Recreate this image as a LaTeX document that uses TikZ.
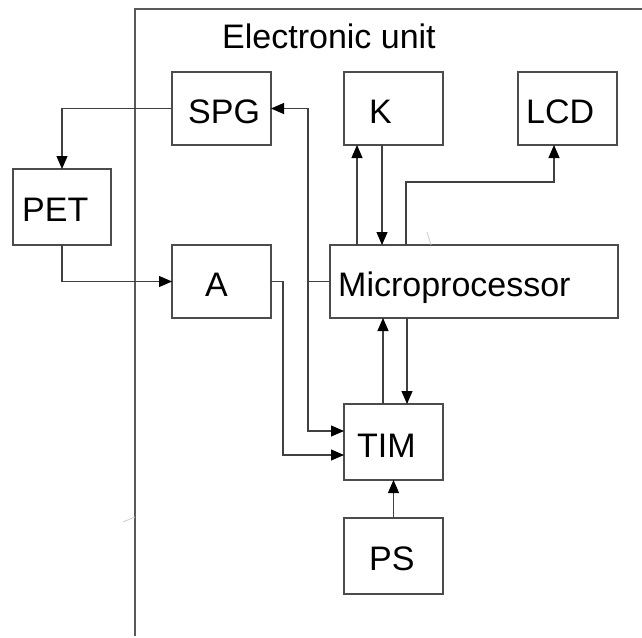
\documentclass[tikz,border=0pt]{standalone}
\usepackage{fontspec}
\setmainfont{Liberation Sans}
\usetikzlibrary{arrows.meta,calc}
\begin{document}
\begin{tikzpicture}[x=1pt,y=-1pt,
  box/.style={draw=black!70,line width=1.1pt,inner sep=0pt,outer sep=0pt,minimum width=99pt,minimum height=73pt},
  lbl/.style={anchor=base west,inner sep=0pt,font=\fontsize{34pt}{40pt}\selectfont},
  conn/.style={draw=black!75,line width=1.1pt},
  arr/.style={conn,-{Triangle[length=13pt,width=11pt,color=black,fill=black]}},
  stray/.style={draw=black!20,line width=0.8pt}]
\useasboundingbox (0,0) rectangle (642,637);
% frame
\draw[draw=black!65,line width=1.1pt] (135,636) -- (135,9) -- (642,9);
\node[lbl] (title) at (222,48) {Electronic unit};
% boxes
\node[box] (spg) at (221.5,108.5) {};
\node[box] (k) at (393.5,108.5) {};
\node[box] (lcd) at (567.5,108.5) {};
\node[box,minimum width=98pt,minimum height=76pt] (pet) at (62,207) {};
\node[box] (a) at (221.5,281.5) {};
\node[box,minimum width=288pt] (mp) at (474,281.5) {};
\node[box,minimum height=76pt] (tim) at (393.5,442) {};
\node[box,minimum height=76pt] (ps) at (393.5,556) {};
% labels
\node[lbl] (tspg) at (188,123) {SPG};
\node[lbl] (tk) at (369,123) {K};
\node[lbl] (tlcd) at (526,123) {LCD};
\node[lbl] (tpet) at (22,221) {PET};
\node[lbl] (ta) at (205,296) {A};
\node[lbl] (tmp) at (338,296) {Microprocessor};
\node[lbl] (ttim) at (357,457) {TIM};
\node[lbl] (tps) at (369,570) {PS};
% connectors
\draw[arr] (spg.west) -| (pet.north);
\draw[arr] (pet.south) |- (a.west);
\coordinate (aturn) at (283,281.5);
\draw[arr] (a.east) -- (aturn) |- ([yshift=-13pt]tim.west);
\coordinate (bus) at (308,281.5);
\draw[conn] (mp.west) -- (bus);
\draw[arr] (bus) |- (spg.east);
\draw[arr] (bus) |- ([yshift=11pt]tim.west);
\draw[arr] ([xshift=-36.5pt]k.south|-mp.north) -- ([xshift=-36.5pt]k.south);
\draw[arr] ([xshift=-11.5pt]k.south) -- ([xshift=-11.5pt]k.south|-mp.north);
\draw[arr] ([xshift=-68pt]mp.north) -- ++(0,-63) -| ([xshift=-13.5pt]lcd.south);
\draw[arr] ([xshift=-10.5pt]tim.north) -- ([xshift=-10.5pt]tim.north|-mp.south);
\draw[arr] ([xshift=13.5pt]tim.north|-mp.south) -- ([xshift=13.5pt]tim.north);
\draw[arr] (ps.north) -- (tim.south);
% faint marks
\draw[stray] (427,232) -- (431,245);
\draw[stray] (123,522) -- (135,517);
\end{tikzpicture}
\end{document}
